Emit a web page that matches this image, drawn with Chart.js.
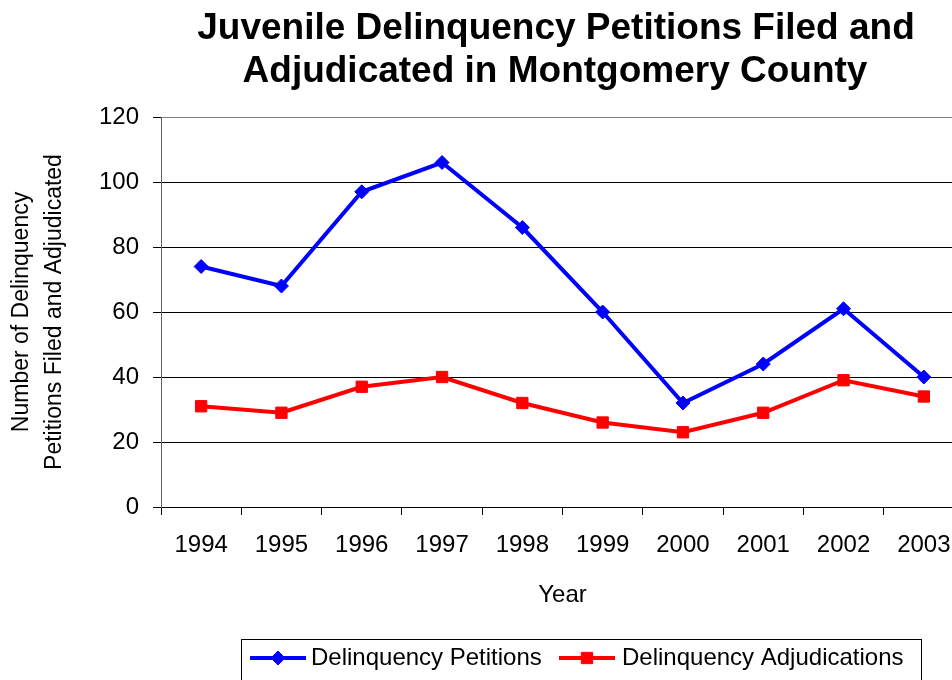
<!DOCTYPE html>
<html>
<head>
<meta charset="utf-8">
<title>Juvenile Delinquency Petitions</title>
<script src="https://cdn.jsdelivr.net/npm/chart.js@4/dist/chart.umd.min.js"></script>
<style>
  html, body { margin: 0; padding: 0; background: #fff; overflow: hidden; }
  #lineChart { position: absolute; left: 0; top: 0; }
</style>
</head>
<body>
<canvas id="lineChart" width="980" height="720"></canvas>
<script>
var years = ["1994", "1995", "1996", "1997", "1998", "1999", "2000", "2001", "2002", "2003"];
var petitions = [74, 68, 97, 106, 86, 60, 32, 44, 61, 40];
var adjudications = [31, 29, 37, 40, 32, 26, 23, 29, 39, 34];
var titleLines = ["Juvenile Delinquency Petitions Filed and", "Adjudicated in Montgomery County"];
var yTitle = ["Number of Delinquency", "Petitions Filed and Adjudicated"];

var FONT = "'Liberation Sans', Arial, sans-serif";

// two-line bold heading, centred over the plot
var headingPlugin = {
  id: 'heading',
  afterDraw: function (chart) {
    var ctx = chart.ctx;
    ctx.save();
    ctx.fillStyle = '#000';
    ctx.font = 'bold 37px ' + FONT;
    ctx.textAlign = 'center';
    ctx.textBaseline = 'alphabetic';
    ctx.fillText(titleLines[0], 556, 39);
    ctx.fillText(titleLines[1], 555, 82);
    ctx.restore();
  }
};

// boxed legend below the axis, line sample with marker in the middle
var boxLegendPlugin = {
  id: 'boxLegend',
  afterDraw: function (chart) {
    var ctx = chart.ctx;
    ctx.save();
    ctx.strokeStyle = '#000';
    ctx.lineWidth = 1;
    ctx.strokeRect(241.5, 639.5, 680, 70);

    var items = [
      { ds: chart.data.datasets[0], x: 250, textX: 311 },
      { ds: chart.data.datasets[1], x: 559, textX: 622 }
    ];
    var y = 658;
    items.forEach(function (it) {
      var cx = it.x + 28;
      ctx.strokeStyle = it.ds.borderColor;
      ctx.lineWidth = 4;
      ctx.beginPath();
      ctx.moveTo(it.x, y);
      ctx.lineTo(it.x + 56, y);
      ctx.stroke();

      ctx.fillStyle = it.ds.borderColor;
      ctx.lineWidth = 1;
      ctx.beginPath();
      if (it.ds.pointStyle === 'rectRot') {
        var r = it.ds.pointRadius;
        ctx.moveTo(cx, y - r);
        ctx.lineTo(cx + r, y);
        ctx.lineTo(cx, y + r);
        ctx.lineTo(cx - r, y);
      } else {
        var s = it.ds.pointRadius * Math.SQRT1_2;
        ctx.rect(cx - s, y - s, 2 * s, 2 * s);
      }
      ctx.closePath();
      ctx.fill();
      ctx.stroke();

      ctx.fillStyle = '#000';
      ctx.font = '24px ' + FONT;
      ctx.textAlign = 'left';
      ctx.textBaseline = 'middle';
      ctx.fillText(it.ds.label, it.textX, y);
    });
    ctx.restore();
  }
};

var ctxL = document.getElementById("lineChart").getContext('2d');
var myLineChart = new Chart(ctxL, {
  type: 'line',
  data: {
    labels: years,
    datasets: [{
      label: "Delinquency Petitions",
      data: petitions,
      borderColor: "#0000ff",
      backgroundColor: "#0000ff",
      borderWidth: 4,
      pointStyle: 'rectRot',
      pointRadius: 7,
      pointBorderWidth: 1,
      tension: 0
    }, {
      label: "Delinquency Adjudications",
      data: adjudications,
      borderColor: "#ff0000",
      backgroundColor: "#ff0000",
      borderWidth: 4,
      pointStyle: 'rect',
      pointRadius: 8,
      pointBorderWidth: 1,
      tension: 0
    }]
  },
  options: {
    responsive: false,
    animation: false,
    events: [],
    layout: { padding: { left: 0, top: 117, right: 16, bottom: 106 } },
    plugins: {
      legend: { display: false },
      title: { display: false },
      tooltip: { enabled: false }
    },
    scales: {
      x: {
        type: 'category',
        offset: true,
        grid: {
          offset: true,
          drawOnChartArea: false,
          color: '#000',
          tickLength: 8
        },
        border: { color: '#000', width: 1 },
        ticks: {
          color: '#000',
          font: { family: FONT, size: 24 },
          padding: 16,
          maxRotation: 0,
          autoSkip: false
        },
        title: {
          display: true,
          text: 'Year',
          color: '#000',
          font: { family: FONT, size: 24 }
        },
        afterFit: function (axis) { axis.height = 107; }
      },
      y: {
        min: 0,
        max: 120,
        ticks: {
          stepSize: 20,
          color: '#000',
          font: { family: FONT, size: 24 },
          padding: 14
        },
        grid: {
          color: function (c) { return c.tick && c.tick.value === 120 ? '#808080' : '#000'; },
          tickColor: '#000',
          tickLength: 8
        },
        border: { color: '#606060', width: 1 },
        title: {
          display: true,
          text: yTitle,
          color: '#000',
          font: { family: FONT, size: 23, lineHeight: '33px' },
          padding: { top: 5, bottom: 4 }
        },
        afterFit: function (axis) { axis.width = 161; }
      }
    }
  },
  plugins: [headingPlugin, boxLegendPlugin]
});
</script>
</body>
</html>
